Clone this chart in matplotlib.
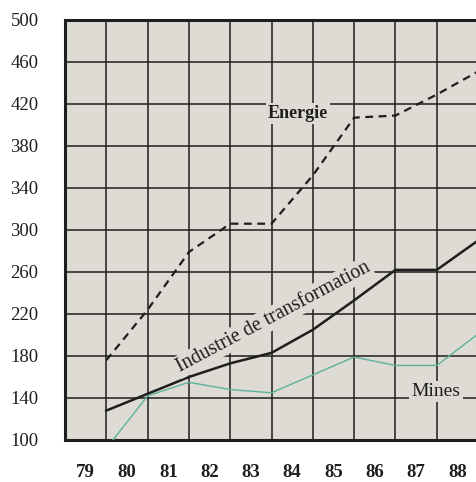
import matplotlib.pyplot as plt

# year labels sit in the middle of each cell, the data sits on the grid lines
years = [79, 80, 81, 82, 83, 84, 85, 86, 87, 88]
grid_x = [79.5, 80.5, 81.5, 82.5, 83.5, 84.5, 85.5, 86.5, 87.5, 88.5]

energie = [176, 224, 279, 306, 306, 352, 407, 409, 429, 451]
industrie = [128, 144, 160, 173, 183, 205, 233, 262, 262, 290]
mines = [92, 142, 155, 148, 145, 162, 179, 171, 171, 201]

y_ticks = [100, 140, 180, 220, 260, 300, 340, 380, 420, 460, 500]

bg = '#dedad4'
ink = '#1e1e1e'
serif = ['Liberation Serif', 'DejaVu Serif']

fig = plt.figure(figsize=(4.76, 4.82), dpi=100)
ax = fig.add_axes([65/476, 1 - 440/482, 411/476, 420/482])
ax.set_facecolor(bg)

ax.set_xlim(78.5, 88.45)
ax.set_ylim(100, 500)

# grid
for gx in grid_x[:-1]:
    ax.axvline(gx, color=ink, lw=1.1, zorder=1)
for gy in y_ticks[1:-1]:
    ax.axhline(gy, color=ink, lw=1.1, zorder=1)

ax.plot(grid_x, energie, color=ink, lw=1.6, ls=(0, (3.5, 2.5)), zorder=3)
ax.plot(grid_x, industrie, color=ink, lw=1.8, zorder=3)
ax.plot(grid_x, mines, color='#5cb39c', lw=1.0, zorder=3)

txt_box = dict(facecolor=bg, edgecolor='none', pad=1.5)
ax.text(84.14, 411, 'Energie', family=serif, fontsize=13, fontweight='bold',
        ha='center', va='center', color=ink, bbox=txt_box, zorder=4)
ax.text(83.55, 217, 'Industrie de transformation', family=serif, fontsize=14.3,
        rotation=28, rotation_mode='anchor', ha='center', va='center',
        color=ink, bbox=txt_box, zorder=4)
ax.text(87.48, 146, 'Mines', family=serif, fontsize=14,
        ha='center', va='center', color=ink, bbox=txt_box, zorder=4)

ax.set_xticks(years)
ax.set_xticklabels([str(y) for y in years], family=serif, fontsize=13.5,
                   fontweight='bold', color=ink)
ax.set_yticks(y_ticks)
ax.set_yticklabels([str(v) for v in y_ticks], family=serif, fontsize=13.5,
                   color=ink)
ax.tick_params(axis='both', length=0)
ax.tick_params(axis='x', pad=17)
ax.tick_params(axis='y', pad=19)

for side in ['left', 'bottom', 'top']:
    ax.spines[side].set_linewidth(2.2)
    ax.spines[side].set_color(ink)
ax.spines['right'].set_visible(False)

fig.savefig('out.png', dpi=100, facecolor='white')
